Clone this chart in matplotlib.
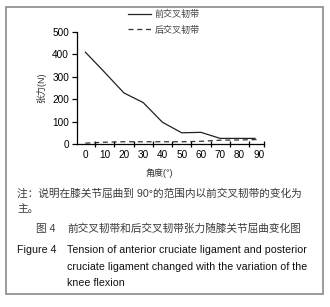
import matplotlib
matplotlib.use("Agg")
import matplotlib.pyplot as plt
from matplotlib.patches import Rectangle
from matplotlib.ticker import FixedLocator

plt.rcParams["font.family"] = ["Liberation Sans", "Noto Sans CJK SC", "DejaVu Sans"]

angle = [0, 10, 20, 30, 40, 50, 60, 70, 80, 88]
acl = [410, 320, 228, 185, 97, 50, 52, 25, 25, 25]
pcl_angle = [0, 10, 20, 30, 40, 50, 60, 70, 80, 90]
pcl = [4, 8, 10, 10, 10, 10, 12, 17, 18, 20]
xticks = [0, 10, 20, 30, 40, 50, 60, 70, 80, 90]
yticks = [0, 100, 200, 300, 400, 500]

W, H = 330, 307
fig = plt.figure(figsize=(W / 100, H / 100), dpi=100)

# outer frame
fig.patches.append(Rectangle((5.5 / W, 1 - 293.5 / H), 317 / W, 287 / H,
                             transform=fig.transFigure, fill=False,
                             edgecolor="#8a8a8a", linewidth=1.2))

ax = fig.add_axes([76.7 / W, 1 - 144 / H, (264 - 76.7) / W, (144 - 32) / H])
l1, = ax.plot(angle, acl, color="#222222", linewidth=0.9, label="前交叉韧带")
l2, = ax.plot(pcl_angle, pcl, color="#333333", linewidth=0.9,
              linestyle=(0, (4, 3)), label="后交叉韧带")

ax.set_xlim(-4.5, 92.7)
ax.set_ylim(0, 500)
ax.spines["top"].set_visible(False)
ax.spines["right"].set_visible(False)
ax.spines["left"].set_linewidth(0.9)
ax.spines["bottom"].set_linewidth(0.9)
ax.set_yticks(yticks)
ax.set_xticks(xticks)
ax.xaxis.set_minor_locator(FixedLocator([5, 15, 25, 35, 45, 55, 65, 75, 85, 92.5]))
ax.tick_params(axis="x", which="major", length=0, labelsize=7.2, pad=4)
ax.tick_params(axis="x", which="minor", direction="inout", length=5, width=0.9)
ax.tick_params(axis="y", length=3.5, width=0.9, labelsize=7.2, pad=2)
ax.set_ylabel("张力(N)", fontsize=6.5, labelpad=4, color="#333333")
ax.patch.set_alpha(0)

leg = fig.legend(handles=[l1, l2], loc="upper left", bbox_to_anchor=(128 / W, 1 - 10 / H),
                 frameon=False, fontsize=6.5, handlelength=2.6, handletextpad=0.3,
                 labelspacing=0.7, borderaxespad=0, borderpad=0)
for t in leg.get_texts():
    t.set_color("#444444")

fig.text(159 / W, 1 - 173 / H, "角度(°)", fontsize=6.5, ha="center", va="center",
         color="#333333")
fs = 7.7
cn = "#3a3a3a"
fig.text(17 / W, 1 - 193 / H, "注：说明在膝关节屈曲到 90°的范围内以前交叉韧带的变化为",
         fontsize=fs, va="center", color=cn)
fig.text(17 / W, 1 - 209 / H, "主。", fontsize=fs, va="center", color=cn)
fig.text(36 / W, 1 - 229 / H, "图 4", fontsize=fs, va="center", color=cn)
fig.text(67 / W, 1 - 229 / H, "前交叉韧带和后交叉韧带张力随膝关节屈曲变化图",
         fontsize=fs, va="center", color=cn)
fig.text(17 / W, 1 - 250 / H, "Figure 4", fontsize=fs, va="center", color="#111111")
fig.text(67 / W, 1 - 250 / H, "Tension of anterior cruciate ligament and posterior",
         fontsize=fs, va="center", color="#111111")
fig.text(67 / W, 1 - 267 / H, "cruciate ligament changed with the variation of the",
         fontsize=fs, va="center", color="#111111")
fig.text(67 / W, 1 - 283 / H, "knee flexion", fontsize=fs, va="center", color="#111111")

fig.savefig("out.png", dpi=100)
